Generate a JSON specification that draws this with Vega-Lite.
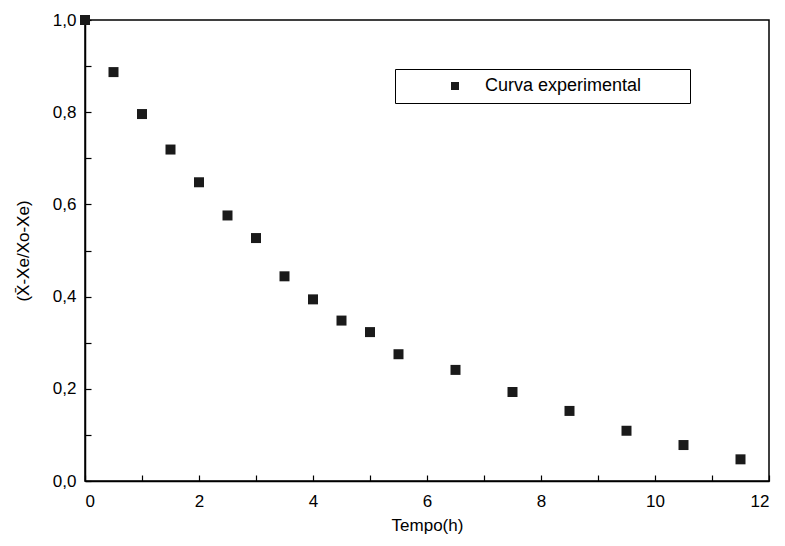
{
  "$schema": "https://vega.github.io/schema/vega-lite/v6.json",
  "autosize": "none",
  "padding": {"left": 85, "top": 20, "right": 16, "bottom": 65},
  "width": 684,
  "height": 461,
  "background": "white",
  "config": {
    "view": {"stroke": "black", "strokeWidth": 1.5},
    "font": "Liberation Sans"
  },
  "data": {
    "values": [
      {"t": 0.0, "v": 1.0, "serie": "Curva experimental"},
      {"t": 0.5, "v": 0.887, "serie": "Curva experimental"},
      {"t": 1.0, "v": 0.796, "serie": "Curva experimental"},
      {"t": 1.5, "v": 0.719, "serie": "Curva experimental"},
      {"t": 2.0, "v": 0.648, "serie": "Curva experimental"},
      {"t": 2.5, "v": 0.576, "serie": "Curva experimental"},
      {"t": 3.0, "v": 0.527, "serie": "Curva experimental"},
      {"t": 3.5, "v": 0.444, "serie": "Curva experimental"},
      {"t": 4.0, "v": 0.394, "serie": "Curva experimental"},
      {"t": 4.5, "v": 0.348, "serie": "Curva experimental"},
      {"t": 5.0, "v": 0.323, "serie": "Curva experimental"},
      {"t": 5.5, "v": 0.275, "serie": "Curva experimental"},
      {"t": 6.5, "v": 0.241, "serie": "Curva experimental"},
      {"t": 7.5, "v": 0.193, "serie": "Curva experimental"},
      {"t": 8.5, "v": 0.152, "serie": "Curva experimental"},
      {"t": 9.5, "v": 0.109, "serie": "Curva experimental"},
      {"t": 10.5, "v": 0.078, "serie": "Curva experimental"},
      {"t": 11.5, "v": 0.047, "serie": "Curva experimental"}
    ]
  },
  "mark": {"type": "point", "shape": "square", "filled": true, "size": 100, "opacity": 1},
  "encoding": {
    "x": {
      "field": "t",
      "type": "quantitative",
      "scale": {"domain": [0, 12], "nice": false, "zero": false},
      "axis": {
        "title": "Tempo(h)",
        "values": [0, 1, 2, 3, 4, 5, 6, 7, 8, 9, 10, 11, 12],
        "labelExpr": "datum.value % 2 === 0 ? datum.label : ''",
        "grid": false,
        "domainColor": "black",
        "domainWidth": 1.5,
        "tickColor": "black",
        "tickWidth": 1.2,
        "tickSize": -6,
        "labelPadding": 18,
        "labelFontSize": 17,
        "labelColor": "black",
        "labelFont": "Liberation Sans",
        "titleFont": "Liberation Sans",
        "titleFontSize": 17,
        "titleFontWeight": "normal",
        "titleColor": "black",
        "titlePadding": 8
      }
    },
    "y": {
      "field": "v",
      "type": "quantitative",
      "scale": {"domain": [0, 1], "nice": false},
      "axis": {
        "title": "(X̄-Xe/Xo-Xe)",
        "values": [0, 0.1, 0.2, 0.3, 0.4, 0.5, 0.6, 0.7, 0.8, 0.9, 1.0],
        "labelExpr": "(round(datum.value * 10) % 2 === 0) ? replace(format(datum.value, '.1f'), '.', ',') : ''",
        "grid": false,
        "domainColor": "black",
        "domainWidth": 1.5,
        "tickColor": "black",
        "tickWidth": 1.2,
        "tickSize": -6,
        "labelPadding": 15,
        "labelFontSize": 17,
        "labelColor": "black",
        "labelFont": "Liberation Sans",
        "titleFont": "Liberation Sans",
        "titleFontSize": 17,
        "titleFontWeight": "normal",
        "titleColor": "black",
        "titlePadding": 20
      }
    },
    "color": {
      "field": "serie",
      "type": "nominal",
      "scale": {"range": ["#1a1a1a"]},
      "legend": {
        "title": "mm",
        "titleOrient": "right",
        "titleOpacity": 0,
        "titleFontSize": 18,
        "titlePadding": 8,
        "orient": "none",
        "legendX": 310,
        "legendY": 49,
        "strokeColor": "black",
        "padding": 8,
        "symbolType": "square",
        "symbolSize": 64,
        "symbolOffset": 43,
        "labelOffset": 21,
        "labelFontSize": 18,
        "labelFont": "Liberation Sans",
        "labelColor": "black"
      }
    }
  }
}
